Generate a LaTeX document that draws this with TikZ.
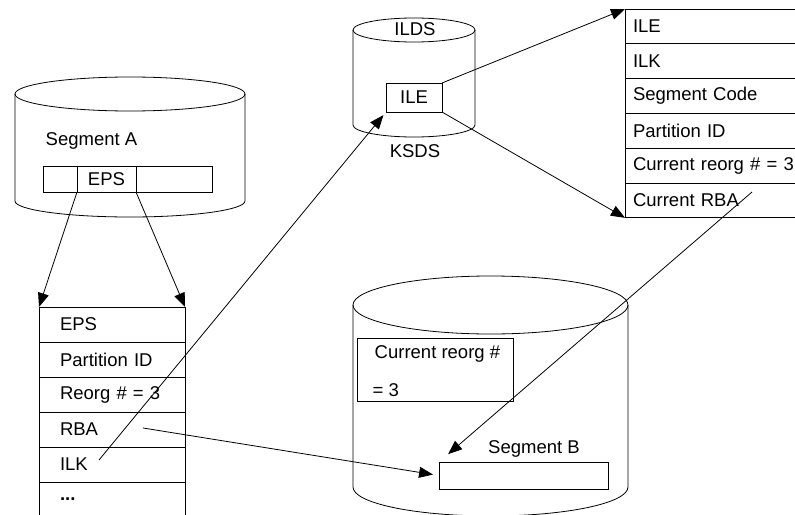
\documentclass[tikz,border=0pt]{standalone}
\usepackage{fontspec}
\setmainfont{Liberation Sans}
\usetikzlibrary{arrows.meta,positioning}

\begin{document}
\begin{tikzpicture}[x=1pt, y=-1pt, line width=0.8pt,
		font=\fontsize{18.5}{22}\selectfont,
		fleche/.style={-{Triangle[length=14pt,width=11pt]}},
		caseg/.style={draw, outer sep=0pt, inner ysep=0pt, minimum height=35pt, text width=104pt, inner xsep=21pt, align=left},
		cased/.style={draw, outer sep=0pt, inner ysep=0pt, minimum height=34.8pt, text width=170pt, inner xsep=8pt, align=left},
		boite/.style={draw, outer sep=0pt, inner sep=0pt}]
		\useasboundingbox (0,0) rectangle (795,514);
		%Cylindres
		\draw (15,94) -- (15,201) arc[start angle=180, end angle=0, x radius=115, y radius=16] -- (245,94);
		\draw (130,94) ellipse[x radius=115, y radius=17];
		\draw (353,30) -- (353,125) arc[start angle=180, end angle=0, x radius=61, y radius=12] -- (475,30);
		\draw (414,30) ellipse[x radius=61, y radius=12];
		\draw (353,305) -- (353,487) arc[start angle=180, end angle=0, x radius=137.5, y radius=29] -- (628,305);
		\draw (490.5,305) ellipse[x radius=137.5, y radius=29];
		
		%Segment A
		\node[anchor=base west] (segA) at (42,145) {Segment A};
		\node[boite, minimum width=34pt, minimum height=26pt] (epsg) at (60,179) {};
		\node[boite, minimum width=59pt, minimum height=26pt] (eps) at (106.5,179) {EPS};
		\node[boite, minimum width=76pt, minimum height=26pt] (epsd) at (174,179) {};
		
		%Table de gauche
		\node[caseg, anchor=north west] (g1) at (39,307) {EPS};
		\node[caseg, below=0pt of g1] (g2) {Partition ID};
		\node[caseg, below=0pt of g2] (g3) {Reorg \# = 3};
		\node[caseg, below=0pt of g3] (g4) {RBA};
		\node[caseg, below=0pt of g4] (g5) {ILK};
		\node[caseg, draw=none, below=0pt of g5] (g6) {\textbf{...}};
		\draw (g6.north west) -- (g6.south west);
		\draw (g6.north east) -- (g6.south east);
		
		%ILDS
		\node[anchor=base] (ilds) at (415,35) {ILDS};
		\node[boite, minimum width=56pt, minimum height=29pt] (ile) at (414,97.5) {ILE};
		\node[anchor=base] (ksds) at (415,157) {KSDS};
		
		%Table de droite
		\node[cased, anchor=north west] (d1) at (625,9) {ILE};
		\node[cased, below=0pt of d1] (d2) {ILK};
		\node[cased, below=0pt of d2] (d3) {Segment Code};
		\node[cased, below=0pt of d3] (d4) {Partition ID};
		\node[cased, below=0pt of d4] (d5) {Current reorg \# = 3};
		\node[cased, below=0pt of d5] (d6) {Current RBA};
		
		%Segment B
		\node[boite, anchor=north west, minimum width=156pt, minimum height=63pt] (reorg) at (357,338) {};
		\node[anchor=base west] (reorg1) at (371,358) {Current reorg \#};
		\node[anchor=base west] (reorg2) at (369,396) {= 3};
		\node[anchor=base] (segB) at (534,453) {Segment B};
		\node[boite, minimum width=169pt, minimum height=27pt] (boiteB) at (523.5,475.5) {};
		
		%Pointeurs
		\coordinate (debilk) at (99,460);
		\coordinate (debrba) at (143,428);
		\coordinate (finrba) at (752,192);
		\draw[fleche] (eps.south west) -- (g1.north west);
		\draw[fleche] (eps.south east) -- (g1.north east);
		\draw[fleche, shorten >=4pt] (debilk) -- (ile.south west);
		\draw[fleche, shorten >=6pt] (debrba) -- (boiteB.west);
		\draw[fleche] (ile.north east) -- (d1.north west);
		\draw[fleche] (ile.south east) -- (d6.south west);
		\draw[fleche, shorten >=12pt] (finrba) -- (boiteB.north west);
	\end{tikzpicture}
\end{document}
